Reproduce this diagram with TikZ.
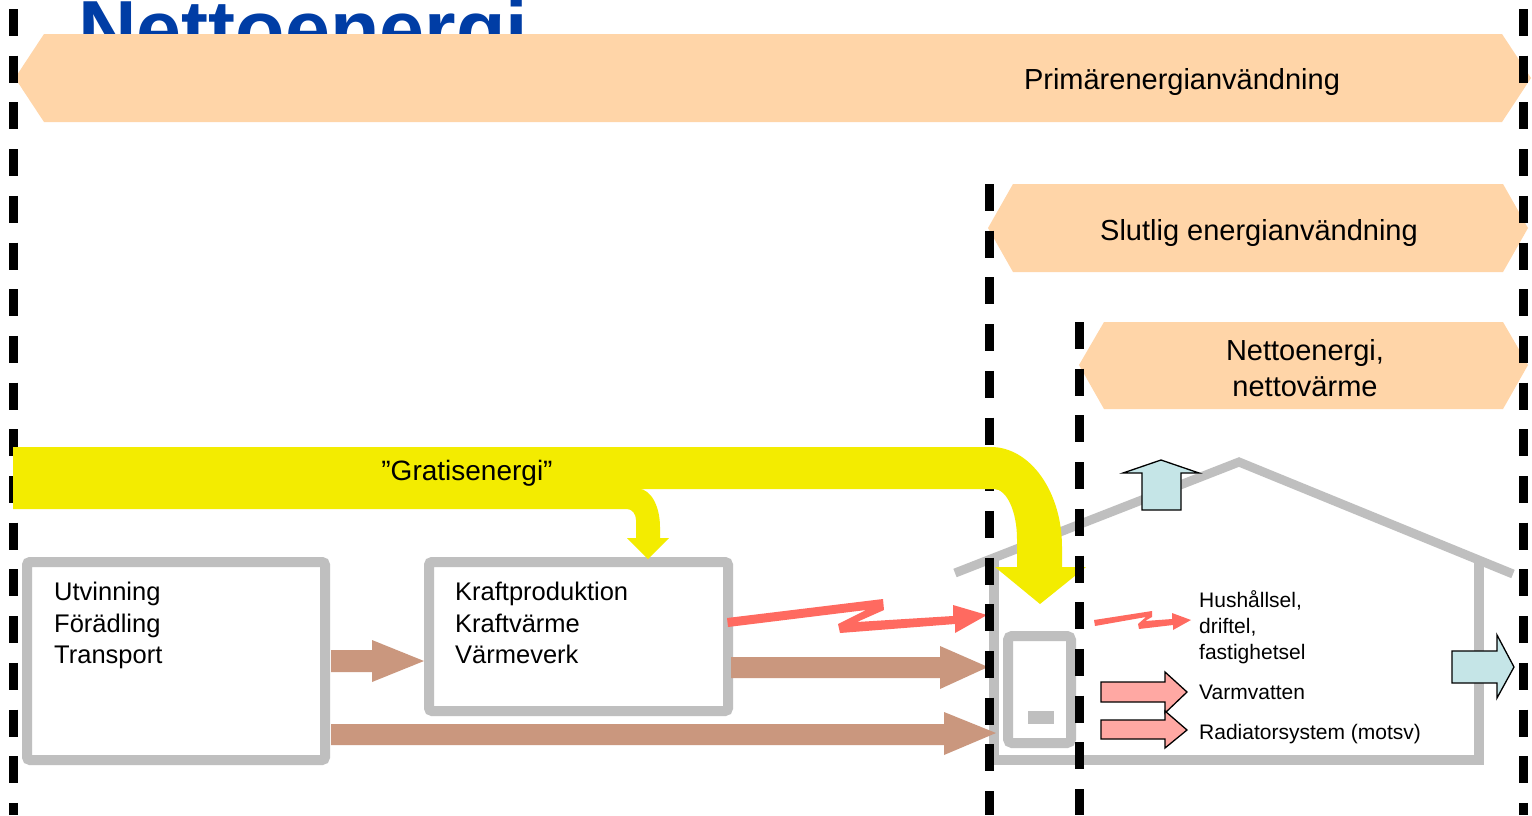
\documentclass[tikz,border=0pt]{standalone}
\usepackage{fontspec}
\setmainfont{Liberation Sans}
\definecolor{peach}{RGB}{255,213,168}
\definecolor{ylw}{RGB}{243,236,0}
\definecolor{brn}{RGB}{202,151,126}
\definecolor{rd}{RGB}{255,106,96}
\definecolor{pnk}{RGB}{255,168,163}
\definecolor{lblue}{RGB}{197,229,231}
\definecolor{gry}{RGB}{191,191,191}
\definecolor{ttl}{RGB}{0,61,165}
\newcommand\fsz[1]{\fontsize{#1}{#1}\selectfont}
\begin{document}
\begin{tikzpicture}[x=1pt,y=1pt,yscale=-1,
  dashline/.style={line width=9pt, dash pattern=on 27pt off 19.7pt},
  txt/.style={inner sep=0pt, anchor=base west},
  bantxt/.style={inner sep=0pt, anchor=base, font=\fsz{29}},
  boxtxt/.style={txt, font=\fsz{25.5}},
  smalltxt/.style={txt, font=\fsz{21}},
  grayframe/.style={draw=gry, line width=10pt, fill=white, rounded corners=3pt, inner sep=0pt, outer sep=0pt},
  blockout/.style={draw=black, line width=1.3pt, line join=miter}]
\useasboundingbox (0,0) rectangle (1532,815);
\fill[white] (0,0) rectangle (1532,815);
% title (partly hidden behind the banner, as in the reference)
\node[txt, text=ttl, font=\bfseries\fsz{81}] (title) at (78,57) {Nettoenergi};
% banners
\fill[peach] (15,78) -- (44,34) -- (1502,34) -- (1531,78) -- (1502,122) -- (44,122) -- cycle;
\node[bantxt] (prim) at (1182,89) {Primärenergianvändning};
\fill[peach] (988,228) -- (1013,184) -- (1503,184) -- (1528,228) -- (1503,272) -- (1013,272) -- cycle;
\node[bantxt] (slut) at (1259,240) {Slutlig energianvändning};
\fill[peach] (1079,365) -- (1104,322) -- (1503,322) -- (1528,365) -- (1503,409) -- (1104,409) -- cycle;
\node[bantxt] (netto1) at (1305,360) {Nettoenergi,};
\node[bantxt] (netto2) at (1305,396) {nettovärme};
% house
\draw[gry, line width=9pt, line join=miter] (955,573) -- (1239,462) -- (1513,574);
\draw[gry, line width=10pt, line join=miter] (994,557) -- (994,760) -- (1479,760) -- (1479,560);
% boiler
\draw[gry, line width=10pt, fill=white, rounded corners=4pt] (1008,636) rectangle (1071,743);
\fill[gry] (1028,711) rectangle (1054,724);
% boxes
\node[grayframe, minimum width=298pt, minimum height=198pt] (src) at (176,661) {};
\node[grayframe, minimum width=299pt, minimum height=149pt] (plant) at (578.5,636.5) {};
\node[boxtxt] (t1) at (54,600) {Utvinning};
\node[boxtxt] (t2) at (54,632) {Förädling};
\node[boxtxt] (t3) at (54,663) {Transport};
\node[boxtxt] (k1) at (455,600) {Kraftproduktion};
\node[boxtxt] (k2) at (455,632) {Kraftvärme};
\node[boxtxt] (k3) at (455,663) {Värmeverk};
% brown arrows
\fill[brn] (331,650) -- (372,650) -- (372,640) -- (424,661) -- (372,682) -- (372,672) -- (331,672) -- cycle;
\fill[brn] (731,657) -- (940,657) -- (940,646) -- (988,667) -- (940,689) -- (940,678) -- (731,678) -- cycle;
\fill[brn] (331,724) -- (944,724) -- (944,712) -- (996,733) -- (944,755) -- (944,745) -- (331,745) -- cycle;
% red lightning arrows
\fill[rd] (727,618) -- (883,599) -- (884,610) -- (857,622) -- (953,616) -- (953,605) -- (987,615) -- (955,633) -- (955,624) -- (840,633) -- (838,624) -- (866,610) -- (728,627) -- cycle;
\fill[rd] (1094,620) -- (1152,611) -- (1152,617) -- (1145,621) -- (1172,619) -- (1172,613) -- (1191,620) -- (1173,630) -- (1173,625) -- (1139,629) -- (1138,624) -- (1146,617) -- (1095,626) -- cycle;
% pink arrows
\filldraw[fill=pnk, blockout] (1101,682) -- (1165,682) -- (1165,672) -- (1187,692) -- (1165,713) -- (1165,702) -- (1101,702) -- cycle;
\filldraw[fill=pnk, blockout] (1101,720) -- (1165,720) -- (1165,711) -- (1187,730) -- (1165,748) -- (1165,739) -- (1101,739) -- cycle;
% light blue arrows
\filldraw[fill=lblue, blockout] (1142,510) -- (1142,473) -- (1123,473) -- (1161,460) -- (1199,473) -- (1181,473) -- (1181,510) -- cycle;
\filldraw[fill=lblue, blockout] (1452,651) -- (1497,651) -- (1497,635) -- (1514,667) -- (1497,698) -- (1497,683) -- (1452,683) -- cycle;
% texts right
\node[smalltxt] (h1) at (1199,607) {Hushållsel,};
\node[smalltxt] (h2) at (1199,633) {driftel,};
\node[smalltxt] (h3) at (1199,659) {fastighetsel};
\node[smalltxt] (vv) at (1199,699) {Varmvatten};
\node[smalltxt] (rad) at (1199,739) {Radiatorsystem (motsv)};
% dashed lines under yellow
\draw[dashline] (13,9) -- (13,815);
\draw[dashline] (989,184) -- (989,815);
% yellow arrow
\fill[ylw] (13,447) -- (991,447) arc[start angle=-90, end angle=0, x radius=71pt, y radius=100pt]
  -- (1062,567) -- (1086,567) -- (1040,604) -- (995,567) -- (1017,567) -- (1017,539)
  arc[start angle=0, end angle=-90, x radius=23pt, y radius=50pt]
  -- (639,489) arc[start angle=-90, end angle=0, x radius=21pt, y radius=38pt]
  -- (660,538) -- (669,538) -- (648,559) -- (627,538) -- (636,538) -- (636,520)
  arc[start angle=0, end angle=-90, x radius=9pt, y radius=11pt]
  -- (13,509) -- cycle;
\node[inner sep=0pt, anchor=base, font=\fsz{28}] (gratis) at (467,480) {”Gratisenergi”};
% dashed lines over
\draw[dashline] (1079,322) -- (1079,815);
\draw[dashline] (1523.5,9) -- (1523.5,815);
\end{tikzpicture}
\end{document}
